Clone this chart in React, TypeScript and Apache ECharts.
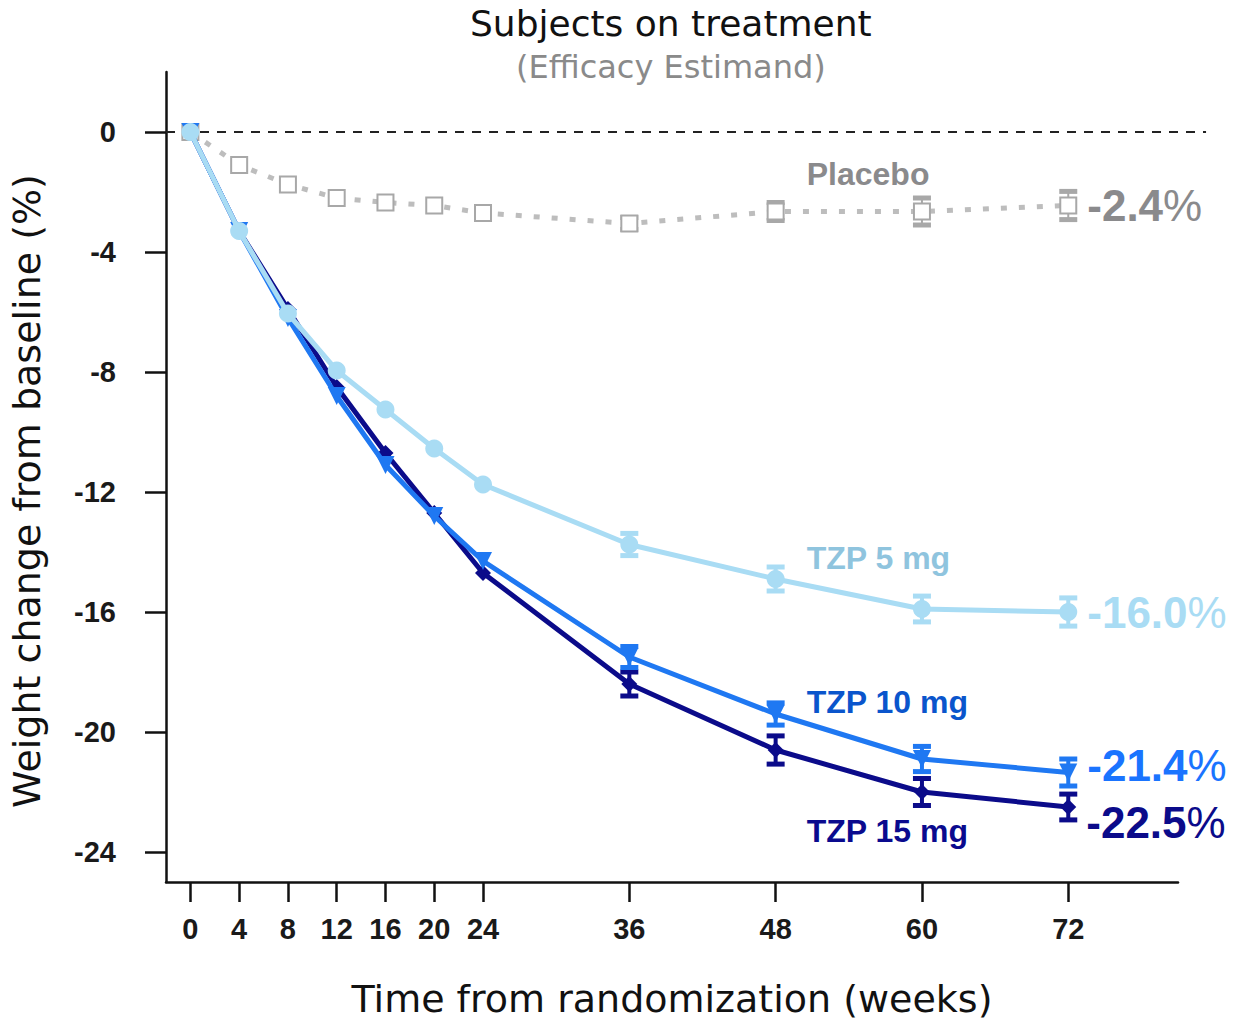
import React, { useEffect, useRef } from "react";
import * as echarts from "echarts";

const weeks = [0, 4, 8, 12, 16, 20, 24, 36, 48, 60, 72];
const xTickValues = [0, 4, 8, 12, 16, 20, 24, 36, 48, 60, 72];
const yTickValues = [-24, -20, -16, -12, -8, -4, 0];

const placebo = [0, -1.1, -1.75, -2.2, -2.35, -2.45, -2.7, -3.05, -2.65, -2.65, -2.45];
const tzp5 = [0, -3.3, -6.05, -7.95, -9.25, -10.55, -11.75, -13.75, -14.9, -15.9, -16.0];
const tzp10 = [0, -3.3, -6.2, -8.8, -11.1, -12.8, -14.3, -17.5, -19.4, -20.9, -21.35];
const tzp15 = [0, -3.3, -5.9, -8.5, -10.7, -12.7, -14.7, -18.4, -20.6, -22.0, -22.5];

// error (half-width of error bar) per week, 0 = none shown
const placeboErr = [0, 0, 0, 0, 0, 0, 0, 0.2, 0.3, 0.45, 0.47];
const tzp5Err = [0, 0, 0, 0, 0, 0, 0, 0.37, 0.4, 0.43, 0.47];
const tzp10Err = [0, 0, 0, 0, 0, 0, 0, 0.35, 0.37, 0.42, 0.45];
const tzp15Err = [0, 0, 0, 0, 0, 0, 0, 0.4, 0.47, 0.45, 0.43];

const seriesNames = ["Placebo", "TZP 5 mg", "TZP 10 mg", "TZP 15 mg"];
const endValues = ["-2.4", "-16.0", "-21.4", "-22.5"];
// where the group names sit, in data units [week, % change]
const nameAnchors = [
  [50.55, -1.4],
  [50.55, -14.2],
  [50.55, -19.0],
  [50.55, -23.3],
];
// baseline reference line, from week -2 to week 83.3 at 0 %
const zeroLine = [[-2, 83.3, 0]];

const COLORS = {
  placeboLine: "#bdbdbd",
  placeboMarker: "#a8a8a8",
  placeboText: "#8a8a8c",
  c5: "#a9dcf4",
  c5Text: "#8fc4de",
  c10: "#1f78f2",
  c10Text: "#0a55cc",
  c10Val: "#1a74ff",
  c15: "#0b0b8a",
  c15Text: "#0a0a8e",
};

const FONT_SANS = "Liberation Sans, Arial, sans-serif";
const FONT_VERDANA = "DejaVu Sans, Verdana, sans-serif";

function errorSeries(values: number[], errs: number[], color: string, z: number, lw: number) {
  const data = weeks
    .map((w, i) => [w, values[i], errs[i]])
    .filter((d) => d[2] > 0);
  return {
    type: "custom",
    z,
    silent: true,
    renderItem: (params: any, api: any) => {
      const x = api.value(0);
      const y = api.value(1);
      const e = api.value(2);
      const top = api.coord([x, y + e]);
      const bot = api.coord([x, y - e]);
      const hw = 9;
      const style = { stroke: color, lineWidth: lw };
      return {
        type: "group",
        children: [
          { type: "line", shape: { x1: top[0], y1: top[1], x2: bot[0], y2: bot[1] }, style },
          { type: "line", shape: { x1: top[0] - hw, y1: top[1], x2: top[0] + hw, y2: top[1] }, style: { stroke: color, lineWidth: 5 } },
          { type: "line", shape: { x1: bot[0] - hw, y1: bot[1], x2: bot[0] + hw, y2: bot[1] }, style: { stroke: color, lineWidth: 5 } },
        ],
      };
    },
    data,
  };
}

function pairs(values: number[]) {
  return weeks.map((w, i) => [w, values[i]]);
}

function lineSeries(
  idx: number,
  values: number[],
  color: string,
  textColor: string,
  valColor: string,
  symbol: string,
  symbolSize: number,
  z: number,
  extra: any,
  valOffset: number[]
) {
  const data: any[] = pairs(values);
  const last = data.length - 1;
  data[last] = {
    value: data[last],
    label: {
      show: true,
      position: "right",
      distance: 10,
      offset: valOffset,
      formatter: "{v|" + endValues[idx] + "}{p|%}",
      rich: {
        v: { color: valColor, fontFamily: FONT_SANS, fontWeight: "bold", fontSize: 44 },
        p: { color: valColor, fontFamily: FONT_SANS, fontWeight: "normal", fontSize: 44 },
      },
    },
  };
  return {
    type: "line",
    name: seriesNames[idx],
    z,
    data,
    symbol,
    symbolSize,
    lineStyle: { color, width: 5 },
    itemStyle: { color },
    markPoint: {
      silent: true,
      symbol: "circle",
      symbolSize: 1,
      itemStyle: { color: "rgba(0,0,0,0)" },
      label: {
        show: true,
        position: "inside",
        align: "left",
        verticalAlign: "middle",
        formatter: seriesNames[idx],
        color: textColor,
        fontFamily: FONT_SANS,
        fontWeight: "bold",
        fontSize: 32,
      },
      data: [{ coord: nameAnchors[idx] }],
    },
    ...extra,
  };
}

export default function App() {
  const ref = useRef<HTMLDivElement>(null);
  useEffect(() => {
    if (!ref.current) return;
    const chart = echarts.init(ref.current, undefined, { renderer: "svg" });
    const axisFont = {
      fontFamily: FONT_SANS,
      fontWeight: "bold",
      fontSize: 29,
      color: "#1a1a1a",
    };
    chart.setOption({
      animation: false,
      backgroundColor: "#ffffff",
      title: [
        {
          text: "Subjects on treatment",
          left: 465,
          top: 0,
          textStyle: { fontFamily: FONT_VERDANA, fontWeight: "normal", fontSize: 36, color: "#111" },
        },
        {
          text: "(Efficacy Estimand)",
          left: 511,
          top: 46,
          textStyle: { fontFamily: FONT_VERDANA, fontWeight: "normal", fontSize: 32, color: "#8a8a8a" },
        },
      ],
      grid: { left: 163, right: 56, top: 72, bottom: 141, containLabel: false },
      xAxis: {
        type: "value",
        min: -2,
        max: 81,
        name: "Time from randomization (weeks)",
        nameLocation: "middle",
        nameGap: 98,
        nameTextStyle: { fontFamily: FONT_VERDANA, fontSize: 38, color: "#111" },
        axisLine: { show: true, onZero: false, lineStyle: { color: "#111", width: 2.5 } },
        axisTick: { show: true, length: 20, lineStyle: { color: "#111", width: 2.5 }, customValues: xTickValues },
        axisLabel: { ...axisFont, margin: 32, customValues: xTickValues },
        splitLine: { show: false },
      },
      yAxis: {
        type: "value",
        min: -25,
        max: 2,
        name: "Weight change from baseline (%)",
        nameLocation: "middle",
        nameGap: 120,
        nameTextStyle: { fontFamily: FONT_VERDANA, fontSize: 38, color: "#111", padding: [0, 28, 0, 0] },
        axisLine: { show: true, onZero: false, lineStyle: { color: "#111", width: 2.5 } },
        axisTick: { show: true, length: 21, lineStyle: { color: "#111", width: 2.5 }, customValues: yTickValues },
        axisLabel: { ...axisFont, margin: 50, customValues: yTickValues },
        splitLine: { show: false },
      },
      series: [
        {
          type: "custom",
          z: 1,
          silent: true,
          clip: false,
          renderItem: (params: any, api: any) => {
            const a = api.coord([api.value(0), api.value(2)]);
            const b = api.coord([api.value(1), api.value(2)]);
            return {
              type: "line",
              shape: { x1: a[0], y1: a[1], x2: b[0], y2: b[1] },
              style: { stroke: "#222", lineWidth: 2, lineDash: [9, 8] },
            };
          },
          data: zeroLine,
        },
        errorSeries(placebo, placeboErr, COLORS.placeboMarker, 2, 2),
        lineSeries(
          0,
          placebo,
          COLORS.placeboLine,
          COLORS.placeboText,
          COLORS.placeboText,
          "rect",
          16,
          3,
          {
            lineStyle: { color: COLORS.placeboLine, width: 5, type: [6, 12] },
            itemStyle: { color: "#ffffff", borderColor: COLORS.placeboMarker, borderWidth: 2 },
          },
          [0, 0]
        ),
        errorSeries(tzp15, tzp15Err, COLORS.c15, 4, 4),
        lineSeries(3, tzp15, COLORS.c15, COLORS.c15Text, COLORS.c15, "diamond", 16, 5, {}, [0, 15]),
        errorSeries(tzp10, tzp10Err, COLORS.c10, 6, 4),
        lineSeries(2, tzp10, COLORS.c10, COLORS.c10Text, COLORS.c10Val, "triangle", 18, 7, { symbolRotate: 180 }, [0, -7]),
        errorSeries(tzp5, tzp5Err, COLORS.c5, 8, 4),
        lineSeries(1, tzp5, COLORS.c5, COLORS.c5Text, COLORS.c5, "circle", 18, 9, {}, [0, 0]),
      ],
    });
    return () => chart.dispose();
  }, []);
  return (
    <div
      ref={ref}
      style={{ position: "fixed", left: 0, top: 0, width: 1234, height: 1023, background: "#fff" }}
    />
  );
}
